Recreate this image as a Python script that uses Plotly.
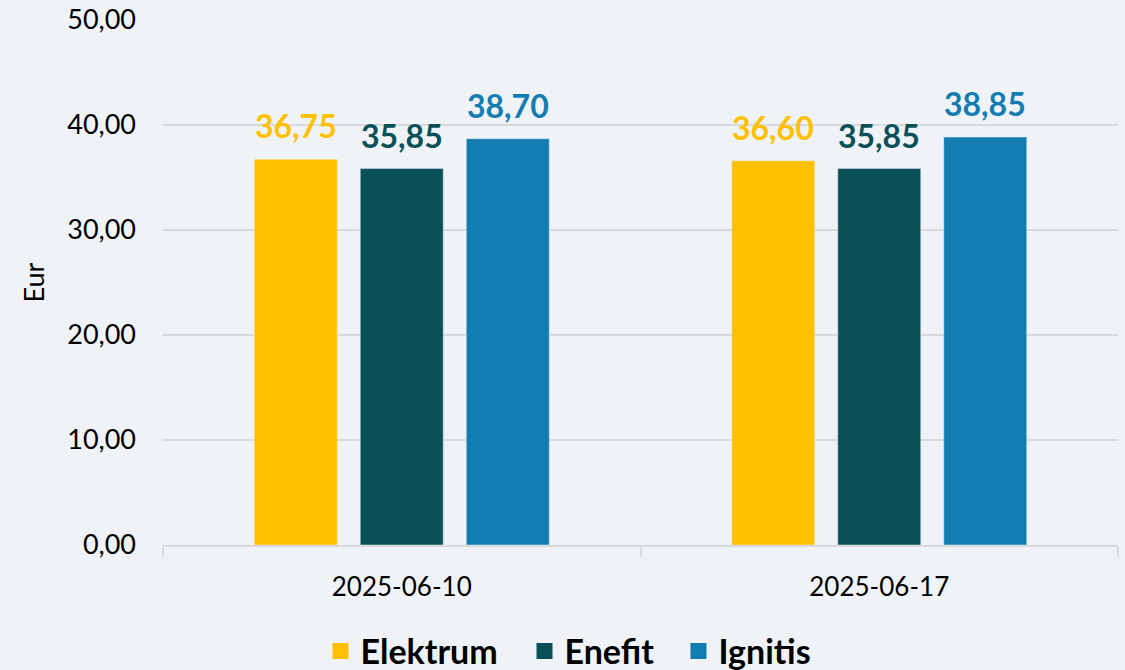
import plotly.graph_objects as go

categories = ["2025-06-10", "2025-06-17"]
series_names = ["Elektrum", "Enefit", "Ignitis"]
elektrum = [36.75, 36.60]
enefit = [35.85, 35.85]
ignitis = [38.70, 38.85]
colors = ["#FFC000", "#0A5057", "#137CB1"]

fig = go.Figure()
all_series = [elektrum, enefit, ignitis]
for name, vals, col in zip(series_names, all_series, colors):
    fig.add_trace(go.Bar(
        x=categories, y=vals, name=name, marker_color=col,
        showlegend=False, hoverinfo="x+y+name",
    ))

legend_ids = ["legend", "legend2", "legend3"]
legend_x = [320.5, 524.5, 678.5]
for name, col, lid in zip(series_names, colors, legend_ids):
    fig.add_trace(go.Scatter(
        x=[categories[0]], y=[None], name=name, mode="markers",
        marker=dict(symbol="square", size=21, color=col), showlegend=True,
        legend=lid,
    ))

# data labels above bars
shifts = [-106, 0, 106]
for vals, col, xs in zip(all_series, colors, shifts):
    for cat, v in zip(categories, vals):
        fig.add_annotation(
            x=cat, y=v, xref="x", yref="y", xshift=xs, yshift=12,
            yanchor="bottom", showarrow=False,
            text=f"{v:.2f}".replace(".", ","),
            font=dict(color=col, size=32, family="Lato", weight="bold"),
        )

legend_common = dict(orientation="h", xanchor="left", xref="container",
                     yanchor="middle", yref="container",
                     font=dict(size=34, family="Lato", weight="bold"),
                     itemwidth=30, itemsizing="trace", bgcolor="rgba(0,0,0,0)")
layout_legends = {}
for lid, lx in zip(legend_ids, legend_x):
    d = dict(legend_common)
    d["x"] = lx / 1125
    d["y"] = 1 - 651.5 / 670
    layout_legends[lid] = d

fig.update_layout(
    width=1125, height=670,
    paper_bgcolor="#EFF3F7", plot_bgcolor="#EFF3F7",
    separators=", ",
    margin=dict(l=163, r=7, t=20, b=125),
    barmode="group", bargap=0.334, bargroupgap=0.217,
    font=dict(family="Lato", color="#000000", size=20),
    showlegend=True,
    **layout_legends,
)
fig.update_yaxes(range=[0, 50], dtick=10, tickformat=".2f", showgrid=True,
                 gridcolor="#D9D9D9", gridwidth=2, zeroline=False, showline=False,
                 ticks="", ticklen=0, automargin=False, ticklabelstandoff=26,
                 title=dict(text="Eur", font=dict(size=27), standoff=14),
                 tickfont=dict(size=27))
fig.update_xaxes(type="category", showline=True, linecolor="#D9D9D9", linewidth=2,
                 ticks="outside", tickson="boundaries", ticklen=10, tickcolor="#D9D9D9",
                 tickwidth=2, automargin=False, ticklabelstandoff=18,
                 tickfont=dict(size=26), showgrid=False)

fig.write_html("out.html", config={"displayModeBar": False},
               post_script="document.body.style.margin='0px';")
